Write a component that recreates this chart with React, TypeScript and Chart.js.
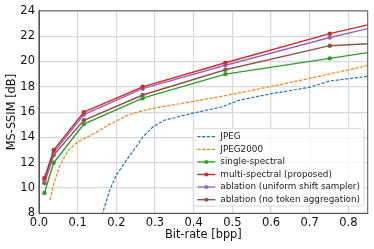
import React, { useEffect, useRef } from "react";
import { Chart, registerables } from "chart.js";

Chart.register(...registerables);

// Learned codecs: bit-rates (bpp)
const learnedRates = [0.014, 0.038, 0.116, 0.268, 0.482, 0.752, 0.85];
const singleSpectral = [9.6, 12.0, 15.05, 17.1, 19.0, 20.25, 20.7];
const multiSpectral = [10.8, 13.0, 16.0, 18.0, 19.9, 22.2, 22.9];
const ablationUniform = [10.6, 12.8, 15.8, 17.85, 19.7, 21.9, 22.6];
const ablationNoToken = [10.4, 12.6, 15.35, 17.35, 19.35, 21.25, 21.4];
const markerShown = [true, true, true, true, true, true, false];

// JPEG
const jpegRates = [0.15, 0.163, 0.183, 0.2, 0.226, 0.25, 0.269, 0.295, 0.325, 0.36, 0.403, 0.471, 0.519, 0.605, 0.699, 0.751, 0.803, 0.86];
const jpegValues = [7.2, 7.87, 9.84, 11.03, 12.2, 13.2, 14.05, 14.84, 15.37, 15.63, 15.95, 16.4, 16.95, 17.48, 17.95, 18.45, 18.65, 18.86];

// JPEG2000
const j2kRates = [0.0284, 0.037, 0.054, 0.076, 0.101, 0.145, 0.179, 0.23, 0.274, 0.317, 0.385, 0.48, 0.596, 0.699, 0.86];
const j2kValues = [9.05, 10.24, 11.8, 13.0, 13.66, 14.35, 14.97, 15.77, 16.16, 16.42, 16.77, 17.29, 18.0, 18.66, 19.75];

const xTicksMax = 0.85;
const yMin = 8;
const yMax = 24;

const xTitle = "Bit-rate [bpp]";
const yTitle = "MS-SSIM [dB]";

const FONT = "'DejaVu Sans', sans-serif";

const toPoints = (xs: number[], ys: number[]) => xs.map((x, i) => ({ x, y: ys[i] }));

const legendPlugin = {
  id: "insideLegend",
  afterDraw(chart: any) {
    const { ctx, chartArea } = chart;
    // frame (spines)
    ctx.save();
    ctx.strokeStyle = "#555";
    ctx.lineWidth = 1;
    ctx.strokeRect(chartArea.left, chartArea.top, chartArea.right - chartArea.left, chartArea.bottom - chartArea.top);
    ctx.restore();

    const items = chart.data.datasets;
    const fontSize = 8.8;
    const rowH = 12.6;
    ctx.save();
    ctx.font = `${fontSize}px ${FONT}`;
    let maxW = 0;
    items.forEach((d: any) => {
      maxW = Math.max(maxW, ctx.measureText(d.label).width);
    });
    const padL = 4, lineW = 18, gap = 5, padR = 4;
    const boxW = padL + lineW + gap + maxW + padR;
    const boxH = rowH * items.length + 2;
    const right = chartArea.right - 3.7;
    const bottom = chartArea.bottom - 7.3;
    const left = right - boxW;
    const top = bottom - boxH;
    ctx.beginPath();
    const r = 2.5;
    ctx.moveTo(left + r, top);
    ctx.lineTo(left + boxW - r, top);
    ctx.quadraticCurveTo(left + boxW, top, left + boxW, top + r);
    ctx.lineTo(left + boxW, top + boxH - r);
    ctx.quadraticCurveTo(left + boxW, top + boxH, left + boxW - r, top + boxH);
    ctx.lineTo(left + r, top + boxH);
    ctx.quadraticCurveTo(left, top + boxH, left, top + boxH - r);
    ctx.lineTo(left, top + r);
    ctx.quadraticCurveTo(left, top, left + r, top);
    ctx.closePath();
    ctx.fillStyle = "rgba(255,255,255,0.8)";
    ctx.fill();
    ctx.strokeStyle = "#d0d0d0";
    ctx.lineWidth = 0.8;
    ctx.stroke();

    items.forEach((d: any, i: number) => {
      const cy = top + 1 + rowH * (i + 0.5) + 1;
      ctx.strokeStyle = d.borderColor;
      ctx.lineWidth = d.borderWidth;
      ctx.setLineDash(d.borderDash || []);
      ctx.beginPath();
      ctx.moveTo(left + padL, cy);
      ctx.lineTo(left + padL + lineW, cy);
      ctx.stroke();
      ctx.setLineDash([]);
      if (!d.borderDash) {
        ctx.fillStyle = d.borderColor;
        ctx.beginPath();
        ctx.arc(left + padL + lineW / 2, cy, 2, 0, Math.PI * 2);
        ctx.fill();
      }
      ctx.fillStyle = "#1a1a1a";
      ctx.textBaseline = "middle";
      ctx.textAlign = "left";
      ctx.fillText(d.label, left + padL + lineW + gap, cy);
    });
    ctx.restore();
  },
};

export default function App() {
  const ref = useRef<HTMLCanvasElement>(null);

  useEffect(() => {
    if (!ref.current) return;
    const radii = markerShown.map((s) => (s ? 2.2 : 0));
    const solid = (label: string, ys: number[], color: string) => ({
      label,
      data: toPoints(learnedRates, ys),
      borderColor: color,
      backgroundColor: color,
      borderWidth: 1.4,
      pointRadius: radii,
      pointBorderWidth: 0,
      pointStyle: "circle",
      tension: 0,
    });
    const chart = new Chart(ref.current, {
      type: "line",
      data: {
        datasets: [
          {
            label: "JPEG",
            data: toPoints(jpegRates, jpegValues),
            borderColor: "#1f77b4",
            backgroundColor: "#1f77b4",
            borderWidth: 1.2,
            borderDash: [3.2, 1.6],
            pointRadius: 0,
            tension: 0,
          },
          {
            label: "JPEG2000",
            data: toPoints(j2kRates, j2kValues),
            borderColor: "#ff7f0e",
            backgroundColor: "#ff7f0e",
            borderWidth: 1.2,
            borderDash: [3.2, 1.6],
            pointRadius: 0,
            tension: 0,
          },
          solid("single-spectral", singleSpectral, "#2ca02c"),
          solid("multi-spectral (proposed)", multiSpectral, "#d62728"),
          solid("ablation (uniform shift sampler)", ablationUniform, "#9467bd"),
          solid("ablation (no token aggregation)", ablationNoToken, "#8c564b"),
        ] as any,
      },
      options: {
        animation: false,
        responsive: false,
        devicePixelRatio: 1,
        layout: { padding: { top: 10.7, right: 6.3, left: 0, bottom: 0 } },
        plugins: { legend: { display: false }, tooltip: { enabled: false } },
        scales: {
          x: {
            type: "linear",
            min: 0,
            max: xTicksMax,
            ticks: {
              stepSize: 0.1,
              includeBounds: false,
              padding: 3,
              color: "#111",
              font: { family: FONT, size: 11.5 },
              maxRotation: 0,
              callback: (v: any) => Number(v).toFixed(1),
            },
            grid: { color: "#d8d8d8", lineWidth: 1.2, drawTicks: false },
            border: { display: true, color: "#555", width: 1 },
            title: {
              display: true,
              text: xTitle,
              color: "#111",
              font: { family: FONT, size: 11.4 },
              padding: { top: 0, bottom: 6.8 },
            },
            afterFit: (s: any) => {
              s.height = 35.7;
            },
          },
          y: {
            type: "linear",
            min: yMin,
            max: yMax,
            ticks: {
              stepSize: 2,
              padding: 4,
              color: "#111",
              font: { family: FONT, size: 11.5 },
            },
            grid: { color: "#d8d8d8", lineWidth: 1.2, drawTicks: false },
            border: { display: true, color: "#555", width: 1 },
            title: {
              display: true,
              text: yTitle,
              color: "#111",
              font: { family: FONT, size: 11.4 },
              padding: { top: 5, bottom: 0 },
            },
            afterFit: (s: any) => {
              s.width = 39;
            },
          },
        },
      } as any,
      plugins: [legendPlugin],
    });
    return () => chart.destroy();
  }, []);

  return (
    <div style={{ position: "fixed", left: 0, top: 0, width: 374, height: 249, background: "#fff" }}>
      <canvas ref={ref} width={374} height={249} style={{ width: 374, height: 249, display: "block" }} />
    </div>
  );
}
